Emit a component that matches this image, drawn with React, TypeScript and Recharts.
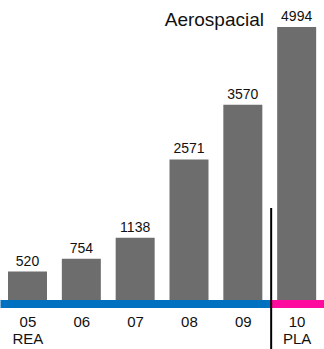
import React from "react";
import { BarChart, Bar, XAxis, YAxis, LabelList, Customized } from "recharts";

// Data
const years = ["05", "06", "07", "08", "09", "10"];
const values = [520, 754, 1138, 2571, 3570, 4994];
const phases = ["REA", "", "", "", "", "PLA"];

const data = years.map((y, i) => ({ year: y, value: values[i], phase: phases[i] }));

const W = 324;
const H = 349;
const LEFT = 1;
const band = (W - LEFT) / years.length;
const FONT = "'Liberation Sans', Arial, sans-serif";

// Tick: coloured strip under each band, year + phase label, and the divider before the plan year
const YearTick = (props: any) => {
  const { x, y, payload, index } = props;
  const planned = index === years.length - 1;
  return (
    <g>
      <rect
        x={x - band / 2 - 0.5}
        y={y}
        width={band + 1}
        height={8}
        fill={planned ? "#ff0a9e" : "#0070c0"}
      />
      {planned && (
        <line x1={x - band / 2 + 1} x2={x - band / 2 + 1} y1={y - 92} y2={H} stroke="#000" strokeWidth={2} />
      )}
      <text x={x} y={y + 27} textAnchor="middle" fontSize={15} fill="#111" fontFamily={FONT}>
        {payload.value}
      </text>
      {data[index] && data[index].phase && (
        <text x={x} y={y + 44} textAnchor="middle" fontSize={15} fill="#111" fontFamily={FONT}>
          {data[index].phase}
        </text>
      )}
    </g>
  );
};

const Title = () => (
  <text x={264} y={26} textAnchor="end" fontSize={19} fill="#111" fontFamily={FONT}>
    Aerospacial
  </text>
);

const App = () => {
  return (
    <div style={{ position: "absolute", left: 0, top: 0, width: W, height: H, background: "#fff" }}>
      <BarChart
        width={W}
        height={H}
        data={data}
        margin={{ top: 27, right: 0, bottom: 0, left: LEFT }}
        barSize={39}
      >
        <XAxis
          dataKey="year"
          axisLine={false}
          tickLine={false}
          tickSize={0}
          tickMargin={0}
          height={49}
          interval={0}
          tick={<YearTick />}
        />
        <YAxis hide domain={[0, "dataMax"]} />
        <Bar dataKey="value" fill="#6d6d6d" isAnimationActive={false}>
          <LabelList
            dataKey="value"
            position="top"
            offset={6}
            fontSize={14}
            fill="#111"
            fontFamily={FONT}
          />
        </Bar>
        <Customized component={<Title />} />
      </BarChart>
    </div>
  );
};

export default App;
